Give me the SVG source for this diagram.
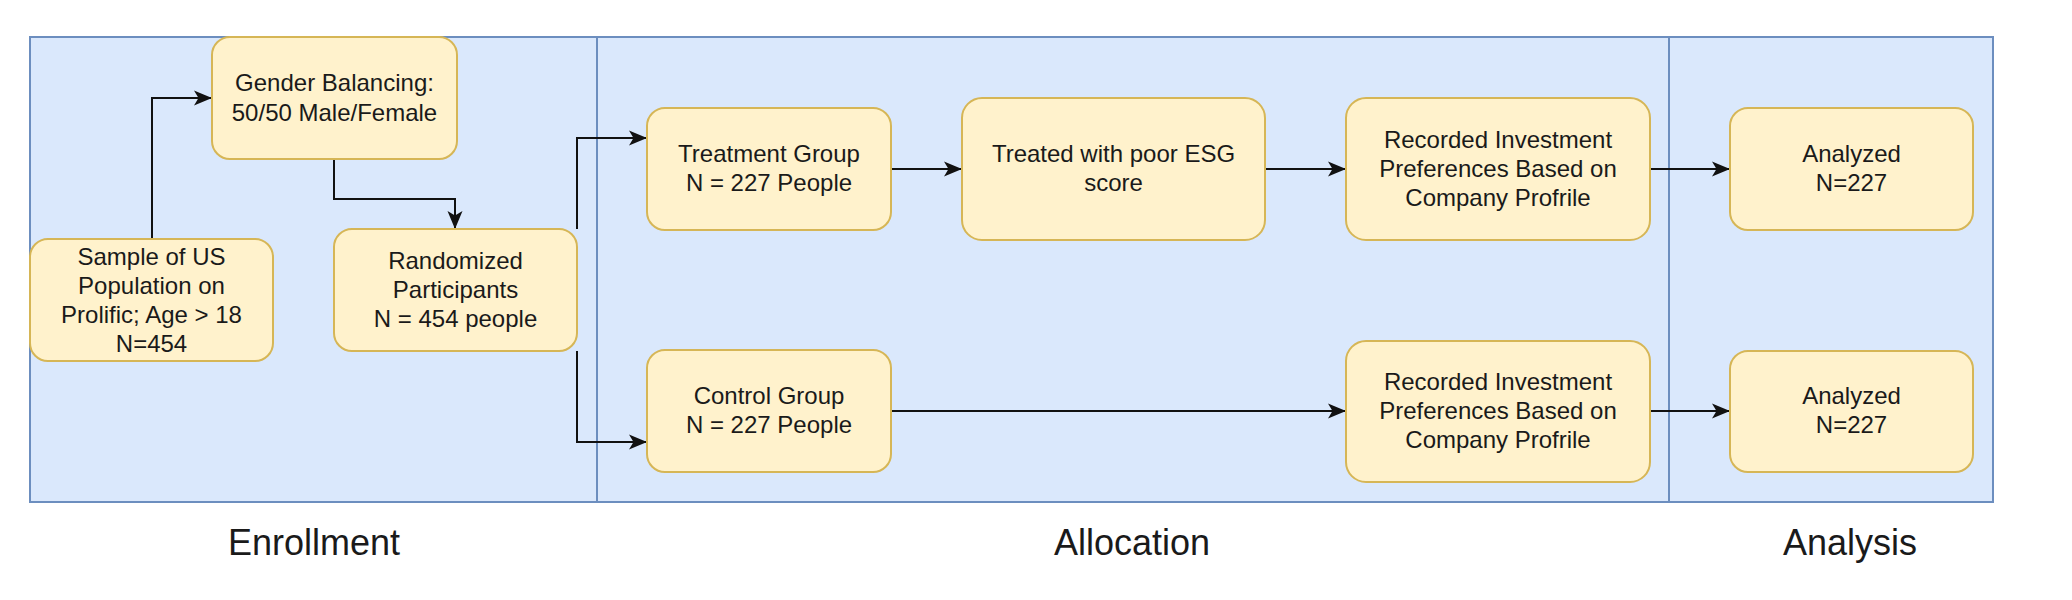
<svg xmlns="http://www.w3.org/2000/svg" width="2072" height="600" viewBox="0 0 2072 600">
<style>
.box{fill:#fff2cc;stroke:#d6b656;stroke-width:2}
.t{font-family:"Liberation Sans",Arial,sans-serif;font-size:24px;fill:#1a1a1a;text-anchor:middle}
.lab{font-family:"Liberation Sans",Arial,sans-serif;font-size:36px;fill:#1a1a1a;text-anchor:middle}
.edge{fill:none;stroke:#111;stroke-width:2;marker-end:url(#arr)}
.pool{fill:#dae8fc;stroke:#6c8ebf;stroke-width:2}
.div{stroke:#6c8ebf;stroke-width:2}
</style>
<defs>
<marker id="arr" markerUnits="userSpaceOnUse" markerWidth="20" markerHeight="16" refX="18" refY="8" orient="auto" viewBox="0 0 20 16">
<path d="M0,0.5 L18,8 L0,15.5 L4.5,8 Z" fill="#111"/>
</marker>
</defs>
<rect width="2072" height="600" fill="#ffffff"/>
<g id="lanes">
<rect class="pool" x="30" y="37" width="1963" height="465"/>
<line class="div" x1="597" y1="37" x2="597" y2="502"/>
<line class="div" x1="1669" y1="37" x2="1669" y2="502"/>
<text class="lab" x="314" y="555">Enrollment</text>
<text class="lab" x="1132" y="555">Allocation</text>
<text class="lab" x="1850" y="555">Analysis</text>
</g>
<g id="connectors">
<path class="edge" d="M152,239 V98 H212"/>
<path class="edge" d="M334,159 V199 H455 V229"/>
<path class="edge" d="M577,229 V138 H647"/>
<path class="edge" d="M577,351 V442 H647"/>
<path class="edge" d="M891,169 H962"/>
<path class="edge" d="M1265,169 H1346"/>
<path class="edge" d="M1650,169 H1730"/>
<path class="edge" d="M891,411 H1346"/>
<path class="edge" d="M1650,411 H1730"/>
</g>
<g id="sample">
<rect class="box" x="30" y="239" width="243" height="122" rx="18"/>
<text class="t" x="151.5" y="265">Sample of US</text>
<text class="t" x="151.5" y="294">Population on</text>
<text class="t" x="151.5" y="323">Prolific; Age &gt; 18</text>
<text class="t" x="151.5" y="352">N=454</text>
</g>
<g id="gender">
<rect class="box" x="212" y="37" width="245" height="122" rx="18"/>
<text class="t" x="334.5" y="91">Gender Balancing:</text>
<text class="t" x="334.5" y="121">50/50 Male/Female</text>
</g>
<g id="randomized">
<rect class="box" x="334" y="229" width="243" height="122" rx="18"/>
<text class="t" x="455.5" y="269">Randomized</text>
<text class="t" x="455.5" y="298">Participants</text>
<text class="t" x="455.5" y="327">N = 454 people</text>
</g>
<g id="treatment">
<rect class="box" x="647" y="108" width="244" height="122" rx="18"/>
<text class="t" x="769" y="162">Treatment Group</text>
<text class="t" x="769" y="191">N = 227 People</text>
</g>
<g id="treated">
<rect class="box" x="962" y="98" width="303" height="142" rx="20"/>
<text class="t" x="1113.5" y="162">Treated with poor ESG</text>
<text class="t" x="1113.5" y="191">score</text>
</g>
<g id="recorded1">
<rect class="box" x="1346" y="98" width="304" height="142" rx="20"/>
<text class="t" x="1498" y="148">Recorded Investment</text>
<text class="t" x="1498" y="177">Preferences Based on</text>
<text class="t" x="1498" y="206">Company Profrile</text>
</g>
<g id="analyzed1">
<rect class="box" x="1730" y="108" width="243" height="122" rx="18"/>
<text class="t" x="1851.5" y="162">Analyzed</text>
<text class="t" x="1851.5" y="191">N=227</text>
</g>
<g id="control">
<rect class="box" x="647" y="350" width="244" height="122" rx="18"/>
<text class="t" x="769" y="404">Control Group</text>
<text class="t" x="769" y="433">N = 227 People</text>
</g>
<g id="recorded2">
<rect class="box" x="1346" y="341" width="304" height="141" rx="20"/>
<text class="t" x="1498" y="390">Recorded Investment</text>
<text class="t" x="1498" y="419">Preferences Based on</text>
<text class="t" x="1498" y="448">Company Profrile</text>
</g>
<g id="analyzed2">
<rect class="box" x="1730" y="351" width="243" height="121" rx="18"/>
<text class="t" x="1851.5" y="404">Analyzed</text>
<text class="t" x="1851.5" y="433">N=227</text>
</g>
</svg>
